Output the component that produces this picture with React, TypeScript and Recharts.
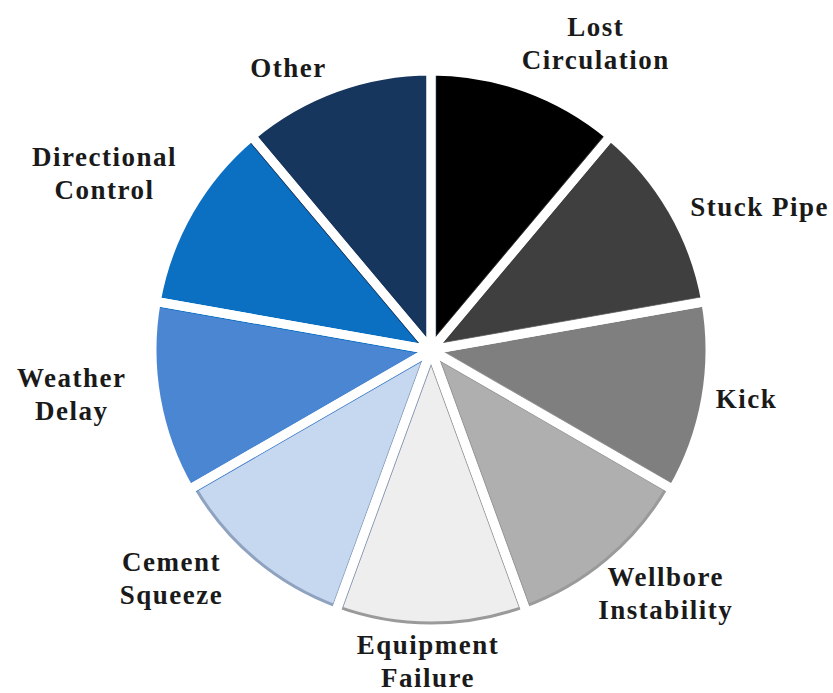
import React from 'react';
import { PieChart, Pie, Cell } from 'recharts';

// categories, clockwise from 12 o'clock
const categories = [
  'Lost Circulation',
  'Stuck Pipe',
  'Kick',
  'Wellbore Instability',
  'Equipment Failure',
  'Cement Squeeze',
  'Weather Delay',
  'Directional Control',
  'Other',
];

// label text split into lines
const labelLines = [
  ['Lost', 'Circulation'],
  ['Stuck Pipe'],
  ['Kick'],
  ['Wellbore', 'Instability'],
  ['Equipment', 'Failure'],
  ['Cement', 'Squeeze'],
  ['Weather', 'Delay'],
  ['Directional', 'Control'],
  ['Other'],
];

// every slice looks the same size
const shares = [1, 1, 1, 1, 1, 1, 1, 1, 1];

const sliceColors = [
  '#000000',
  '#3f3f3f',
  '#7f7f7f',
  '#afafaf',
  '#eeeeee',
  '#c6d8f0',
  '#4a86d2',
  '#0b70c2',
  '#17365e',
];

// thin outline only visible on the pale slices
const edgeColors = [
  '#000000',
  '#3f3f3f',
  '#7f7f7f',
  '#9a9a9a',
  '#9a9a9a',
  '#8fa2bf',
  '#4a86d2',
  '#0b70c2',
  '#17365e',
];

const chartData = categories.map((name, i) => ({ name, value: shares[i] }));

const FONT_SIZE = 27;
const LETTER = 1.5;
const LINE_H = 33;
const FONT = `bold ${FONT_SIZE}px "Liberation Serif", "Times New Roman", serif`;

// small hand tweaks to the automatic label placement (Excel-style nudging)
const labelNudge = [
  [6, -7],
  [0, 8],
  [-20, -3],
  [-8, 0],
  [-3, -6],
  [-27, -15],
  [0, -10],
  [5, -17],
  [4, 2],
];

let ctx: CanvasRenderingContext2D | null = null;
const textWidth = (s: string) => {
  if (!ctx) ctx = document.createElement('canvas').getContext('2d');
  let w = s.length * FONT_SIZE * 0.5;
  if (ctx) {
    ctx.font = FONT;
    w = ctx.measureText(s).width;
  }
  return w + s.length * LETTER;
};

const RADIAN = Math.PI / 180;

// labels sit just outside the pie; horizontal reach is a bit wider than vertical
const renderLabel = (props: any) => {
  const { cx, cy, midAngle, index } = props;
  const lines = labelLines[index];
  const cos = Math.cos(-midAngle * RADIAN);
  const sin = Math.sin(-midAngle * RADIAN);
  const w = Math.max(...lines.map(textWidth));
  const h = lines.length * LINE_H;
  const up = Math.max(0, -sin);
  const spread = Math.sign(cos) * 45 * Math.pow(up, 8);
  const [nx, ny] = labelNudge[index];
  const x = cx + 310 * cos + (cos * w) / 2 + spread + nx;
  const y = cy + 285 * sin + (sin * h) / 2 + ny;
  const top = y - h / 2;
  return (
    <text
      key={`lbl-${index}`}
      x={x}
      y={top}
      textAnchor="middle"
      fill="#1a1a1a"
      style={{ font: FONT, letterSpacing: `${LETTER}px` }}
    >
      {lines.map((ln, i) => (
        <tspan key={i} x={x} y={top + LINE_H * i + LINE_H * 0.76}>
          {ln}
        </tspan>
      ))}
    </text>
  );
};

export default function App() {
  return (
    <div style={{ position: 'absolute', left: 0, top: 0, background: '#fff' }}>
      <PieChart width={833} height={693}>
        {/* slices with a rim a little wider than the white gaps */}
        <Pie
          data={chartData}
          dataKey="value"
          nameKey="name"
          cx={426}
          cy={345}
          outerRadius={277}
          startAngle={90}
          endAngle={-270}
          strokeWidth={11}
          isAnimationActive={false}
        >
          {chartData.map((entry, index) => (
            <Cell key={`edge-${index}`} fill={sliceColors[index]} stroke={edgeColors[index]} />
          ))}
        </Pie>
        {/* white gaps drawn on top, leaving a thin rim on each slice */}
        <Pie
          data={chartData}
          dataKey="value"
          nameKey="name"
          cx={426}
          cy={345}
          outerRadius={279}
          startAngle={90}
          endAngle={-270}
          fill="none"
          stroke="#ffffff"
          strokeWidth={9}
          label={renderLabel}
          labelLine={false}
          isAnimationActive={false}
        />
      </PieChart>
    </div>
  );
}
